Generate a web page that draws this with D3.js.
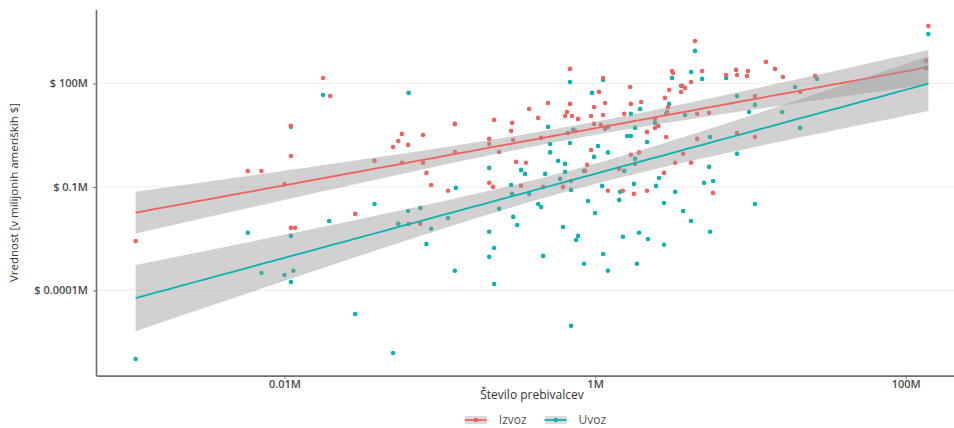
<!DOCTYPE html>
<html>
<head>
<meta charset="utf-8">
<script src="https://cdn.jsdelivr.net/npm/d3@7"></script>
<style>
  body { margin: 0; background: #fff; }
  svg { display: block; font-family: "Open Sans", "Noto Sans", sans-serif; }
</style>
</head>
<body>
<svg id="chart" width="954" height="428"></svg>
<script>
// Population (millions) and trade value (millions of USD) per country
const izvozPop = [0.0011,0.0058,0.0071,0.011,0.011,0.010,0.011,0.0117,0.0177,0.0197,0.038,0.050,0.054,0.057,0.0625,0.078,0.082,0.088,0.113,0.125,0.208,0.208,0.224,0.22,0.288,0.292,0.297,0.31,0.334,0.359,0.376,0.43,0.449,0.498,0.622,0.641,0.66,0.69,0.69,0.711,0.70,0.743,0.777,0.888,0.942,0.942,0.985,0.985,1.06,1.09,1.126,1.126,1.16,1.16,1.21,1.43,1.51,1.54,1.68,1.7,1.7,1.78,1.81,1.92,1.98,2.16,2.16,2.43,2.43,2.55,2.78,2.82,2.91,2.95,3.0,3.13,3.18,3.28,3.58,3.63,3.8,3.69,4.15,4.15,4.4,4.54,4.89,5.42,5.75,6.98,8.09,8.21,8.21,9.52,9.66,10.7,10.7,12.6,14.4,16.2,20.9,26.1,135,140,0.075,0.063,0.0285,4.54,2.87,0.463,0.862,0.057,0.078,0.125,0.208,0.241];
const izvozVal = [0.0027,0.29,0.29,5.9,0.79,0.12,0.0065,0.0065,144,43,0.57,1.44,2.15,3.44,1.65,3.2,0.255,0.114,0.077,6.7,2.46,0.131,8.75,0.100,4.2,7.2,2.3,0.53,0.107,0.50,18.2,10.0,2.63,27,0.100,11.4,14.9,263,25.5,11.4,0.149,4.2,9.35,0.435,11.4,1.18,20.8,6.7,56.7,6.27,144,12.2,27,4.8,0.077,0.333,0.077,13.1,79,25.5,0.85,0.063,0.464,1.0,29,3.93,0.077,9.35,5.13,5.86,0.255,38,14.9,20.8,65,230,201,0.50,56.7,85,74,0.91,110,0.50,1700,13.1,230,14.0,0.067,176,246,176,3.67,165,230,43,2.81,420,263,154,56.7,165,449,4600,0.0085,0.0085,0.0165,2.46,2.81,0.100,0.291,0.50,0.50,1.03,1.76,1.03];

const uvozPop = [0.0011,0.0058,0.011,0.011,0.011,0.0071,0.010,0.0114,0.0177,0.0194,0.0285,0.038,0.050,0.054,0.0625,0.075,0.063,0.082,0.088,0.113,0.125,0.127,0.125,0.208,0.208,0.208,0.224,0.224,0.241,0.288,0.292,0.297,0.315,0.334,0.354,0.376,0.43,0.449,0.463,0.477,0.498,0.513,0.513,0.578,0.595,0.622,0.641,0.641,0.67,0.69,0.69,0.70,0.70,0.722,0.755,0.777,0.849,0.849,0.90,0.956,0.985,1.0,1.045,1.11,1.126,1.126,1.21,1.21,1.21,1.43,1.45,1.51,1.54,1.61,1.7,1.7,1.78,1.81,1.81,1.86,1.92,1.95,2.16,2.19,2.43,2.47,2.58,2.78,2.78,2.87,3.0,3.13,3.28,3.58,3.69,3.8,4.15,4.15,4.4,4.89,5.03,5.42,5.5,5.75,6.98,8.21,8.21,9.81,10.7,10.7,16.0,19.4,20.9,26.9,135,140,5.5];
const uvozVal = [0.00000103,0.0047,0.0038,5.5,0.000176,0.00032,0.00028,0.00037,46,0.0103,0.0000208,0.032,0.00000154,0.0085,0.020,0.0246,53,0.0022,0.0061,0.0126,6.7,0.094,0.00037,0.356,0.0050,0.00094,0.0017,0.000154,0.023,0.114,0.063,0.0135,0.0079,0.311,0.238,0.063,0.032,0.026,0.0010,0.238,5.5,1.76,1.0,0.57,0.171,0.0069,0.464,0.272,3.67,1.88,110,0.082,0.0000094,4.49,0.0029,0.0038,0.291,0.00059,0.039,53,0.742,0.0176,1.54,0.107,126,0.00114,5.5,1.0,0.00037,0.042,0.072,0.0036,0.291,3.0,3.0,13.1,0.122,5.13,0.65,0.00059,0.0047,18.2,2.0,0.0031,7.2,0.107,0.182,0.034,0.0021,13.1,25.5,144,0.072,85,0.020,12.2,215,0.0103,875,135,0.131,0.38,0.005,0.149,144,43,0.91,14.9,23.8,0.032,14.9,79,5.13,135,281,2700,2.81];

const seriesNames = ["Izvoz", "Uvoz"];
const xTicks = [0.01, 1, 100];
const xTickLabels = ["0.01M", "1M", "100M"];
const yTicks = [0.0001, 0.1, 100];
const yTickLabels = ["$ 0.0001M", "$ 0.1M", "$ 100M"];
const xTitle = "Število prebivalcev";
const yTitle = "Vrednost [v milijonih ameriških $]";

// ---- layout & style ----
const colors = ["#F0625F", "#0DB2AE"];
const margin = { top: 9.4, left: 96 };
const panelW = 872, panelH = 366.2;

const svg = d3.select("#chart");

// log-scale domain padded by 5% of the (log) range on each side
function paddedLogDomain(values) {
  const [lo, hi] = d3.extent(values).map(Math.log10);
  const pad = (hi - lo) * 0.05;
  return [10 ** (lo - pad), 10 ** (hi + pad)];
}

const x = d3.scaleLog()
  .domain(paddedLogDomain(izvozPop.concat(uvozPop)))
  .range([margin.left, margin.left + panelW]);
const y = d3.scaleLog()
  .domain(paddedLogDomain(izvozVal.concat(uvozVal)))
  .range([margin.top + panelH, margin.top]);

const series = [
  { name: seriesNames[0], color: colors[0], pop: izvozPop, val: izvozVal },
  { name: seriesNames[1], color: colors[1], pop: uvozPop, val: uvozVal }
];

// Student t quantile (0.975) via Cornish-Fisher expansion
function t975(df) {
  const z = 1.959964;
  return z + (z ** 3 + z) / (4 * df) + (5 * z ** 5 + 16 * z ** 3 + 3 * z) / (96 * df * df);
}

// ordinary least squares on log10(x), log10(y) with 95% confidence band
function fitLogLog(pop, val) {
  const lx = pop.map(Math.log10), ly = val.map(Math.log10);
  const n = lx.length;
  const mx = d3.mean(lx), my = d3.mean(ly);
  let sxx = 0, sxy = 0;
  for (let i = 0; i < n; i++) { sxx += (lx[i] - mx) ** 2; sxy += (lx[i] - mx) * (ly[i] - my); }
  const b = sxy / sxx, a = my - b * mx;
  let sse = 0;
  for (let i = 0; i < n; i++) sse += (ly[i] - (a + b * lx[i])) ** 2;
  const s = Math.sqrt(sse / (n - 2));
  const t = t975(n - 2);
  const [x0, x1] = d3.extent(lx);
  return d3.range(81).map(k => {
    const xv = x0 + (x1 - x0) * k / 80;
    const fit = a + b * xv;
    const se = s * Math.sqrt(1 / n + (xv - mx) ** 2 / sxx);
    return { x: 10 ** xv, fit: 10 ** fit, lo: 10 ** (fit - t * se), hi: 10 ** (fit + t * se) };
  });
}

// grid lines (horizontal only)
svg.append("g").selectAll("line").data(yTicks).join("line")
  .attr("x1", margin.left).attr("x2", margin.left + panelW)
  .attr("y1", d => y(d)).attr("y2", d => y(d))
  .attr("stroke", "#ebebeb").attr("stroke-width", 0.9);

// points: Uvoz underneath, Izvoz on top
const pts = svg.append("g");
[series[1], series[0]].forEach(s => {
  pts.append("g").selectAll("circle").data(s.pop.map((p, i) => [p, s.val[i]])).join("circle")
    .attr("cx", d => x(d[0])).attr("cy", d => y(d[1]))
    .attr("r", 2.3).attr("fill", s.color);
});

// confidence ribbons + regression lines, one group after the other
const smooth = svg.append("g");
series.forEach(s => {
  const band = fitLogLog(s.pop, s.val);
  smooth.append("path").datum(band)
    .attr("d", d3.area().x(d => x(d.x)).y0(d => y(d.lo)).y1(d => y(d.hi)))
    .attr("fill", "#999999").attr("fill-opacity", 0.45);
  smooth.append("path").datum(band)
    .attr("d", d3.line().x(d => x(d.x)).y(d => y(d.fit)))
    .attr("fill", "none").attr("stroke", s.color).attr("stroke-width", 1.8);
});

// axes
const axisColor = "#6e6e6e";
const xAxis = svg.append("g")
  .attr("transform", `translate(0,${margin.top + panelH})`)
  .call(d3.axisBottom(x).tickValues(xTicks).tickFormat((d, i) => xTickLabels[i])
    .tickSize(3).tickSizeOuter(0).tickPadding(2));
const yAxis = svg.append("g")
  .attr("transform", `translate(${margin.left},0)`)
  .call(d3.axisLeft(y).tickValues(yTicks).tickFormat((d, i) => yTickLabels[i])
    .tickSize(3).tickSizeOuter(0).tickPadding(5));
[xAxis, yAxis].forEach(g => {
  g.select(".domain").attr("stroke", axisColor).attr("stroke-width", 1.6);
  g.selectAll(".tick line").attr("stroke", axisColor);
  g.selectAll(".tick text").attr("fill", "#4a4a4a").attr("font-size", 11)
    .attr("font-weight", 600).attr("font-family", "\"Open Sans\", sans-serif");
});

// axis titles
svg.append("text")
  .attr("x", margin.left + panelW / 2).attr("y", 399)
  .attr("text-anchor", "middle").attr("font-size", 12).attr("fill", "#333")
  .text(xTitle);
svg.append("text")
  .attr("transform", `translate(18,${margin.top + panelH / 2}) rotate(-90)`)
  .attr("text-anchor", "middle").attr("font-size", 11.5).attr("fill", "#333")
  .text(yTitle);

// legend
const legendY = 420;
const legend = svg.append("g");
const keyW = 22, keyH = 8, keyGap = 12, itemGap = 18;
let lx = 0;
series.forEach(s => {
  const g = legend.append("g");
  g.append("rect").attr("x", 0).attr("y", -keyH / 2).attr("width", keyW).attr("height", keyH)
    .attr("fill", "#999999").attr("fill-opacity", 0.35);
  g.append("line").attr("x1", 0).attr("x2", keyW).attr("y1", 0).attr("y2", 0)
    .attr("stroke", s.color).attr("stroke-width", 1.8);
  g.append("circle").attr("cx", keyW / 2).attr("cy", 0).attr("r", 2.2).attr("fill", s.color);
  const t = g.append("text").attr("x", keyW + keyGap).attr("dy", "0.35em")
    .attr("font-size", 12).attr("fill", "#555").text(s.name);
  const w = keyW + keyGap + t.node().getComputedTextLength();
  g.attr("transform", `translate(${lx},0)`);
  lx += w + itemGap;
});
const legendW = lx - itemGap;
legend.attr("transform", `translate(${535.5 - legendW / 2},${legendY})`);
</script>
</body>
</html>
